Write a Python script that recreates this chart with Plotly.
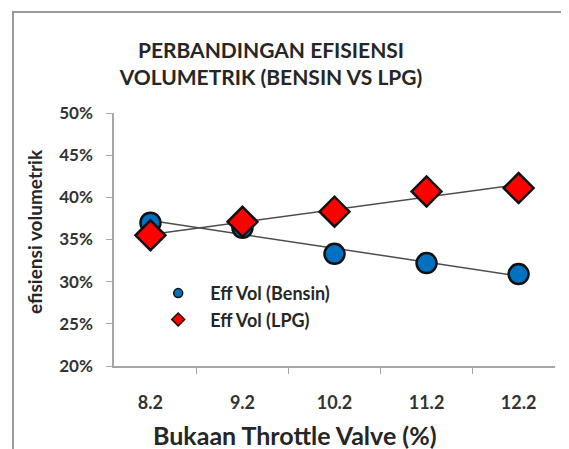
import numpy as np
import plotly.graph_objects as go

categories = ["8.2", "9.2", "10.2", "11.2", "12.2"]
bensin = [0.370, 0.364, 0.333, 0.322, 0.309]
lpg = [0.355, 0.371, 0.383, 0.407, 0.411]
y_ticks = [0.20, 0.25, 0.30, 0.35, 0.40, 0.45, 0.50]

FONT = "Lato"
TEXT = "#333333"
DARK = "#262626"


def trend(values):
    """Linear trendline over the category index, like Excel does."""
    idx = np.arange(len(values))
    slope, icpt = np.polyfit(idx, values, 1)
    return list(slope * idx + icpt)


fig = go.Figure()

# trendlines first so the markers sit on top
for series in (bensin, lpg):
    fig.add_trace(
        go.Scatter(
            x=categories, y=trend(series), mode="lines",
            line={"color": "#4d4d4d", "width": 1.5},
            showlegend=False, hoverinfo="skip",
        )
    )

fig.add_trace(
    go.Scatter(
        x=categories, y=bensin, mode="markers", showlegend=False,
        marker={"symbol": "circle", "size": 20, "color": "#0070C0",
                "line": {"color": "#111111", "width": 2.5}},
    )
)
fig.add_trace(
    go.Scatter(
        x=categories, y=lpg, mode="markers", showlegend=False,
        marker={"symbol": "diamond", "size": 23, "color": "#FF0000",
                "line": {"color": "#111111", "width": 2.5}},
    )
)

# legend-only entries with smaller symbols
fig.add_trace(
    go.Scatter(
        x=[None], y=[None], mode="markers", name="Eff Vol (Bensin)",
        marker={"symbol": "circle", "size": 9, "color": "#0070C0",
                "line": {"color": "#111111", "width": 1.5}},
    )
)
fig.add_trace(
    go.Scatter(
        x=[None], y=[None], mode="markers", name="Eff Vol (LPG)",
        marker={"symbol": "diamond", "size": 10, "color": "#FF0000",
                "line": {"color": "#111111", "width": 1.5}},
    )
)

fig.update_layout(
    width=569, height=449,
    margin={"l": 106, "r": 22, "t": 105, "b": 91},
    paper_bgcolor="white", plot_bgcolor="white",
    font={"family": FONT, "color": TEXT, "size": 13},
    title={
        "text": "PERBANDINGAN EFISIENSI<br>VOLUMETRIK (BENSIN VS LPG)",
        "x": 263 / 569, "xanchor": "center", "y": 1 - 50 / 449, "yanchor": "top",
        "font": {"family": FONT, "size": 21, "color": DARK, "weight": "bold"},
    },
    legend={
        "x": 0.073, "y": 0.36, "xanchor": "left", "yanchor": "top",
        "bgcolor": "rgba(0,0,0,0)",
        "font": {"family": FONT, "size": 18, "color": DARK, "weight": "bold"},
        "itemwidth": 54, "tracegroupgap": 4,
    },
    xaxis={
        "type": "category", "tickson": "boundaries",
        "showline": True, "linecolor": "#A6A6A6", "linewidth": 1.5,
        "ticks": "outside", "ticklen": 6, "tickcolor": "#A6A6A6",
        "showgrid": False, "zeroline": False,
        "tickfont": {"size": 18, "family": FONT, "color": TEXT, "weight": "bold"},
        "ticklabelstandoff": 20,
    },
    yaxis={
        "range": [0.20, 0.50], "tickvals": y_ticks, "tickformat": ".0%",
        "showline": True, "linecolor": "#A6A6A6", "linewidth": 1.5,
        "ticks": "outside", "ticklen": 6, "tickcolor": "#A6A6A6",
        "showgrid": False, "zeroline": False,
        "tickfont": {"size": 17, "family": FONT, "color": TEXT, "weight": "bold"},
        "ticklabelstandoff": 10,
    },
)

# axis titles placed by hand: both sit off-centre in the original
fig.add_annotation(
    text="Bukaan Throttle Valve (%)", xref="paper", yref="paper",
    x=0.41, y=-52 / 253, xanchor="center", yanchor="top", showarrow=False,
    font={"size": 25, "family": FONT, "color": DARK, "weight": "bold"},
)
fig.add_annotation(
    text="efisiensi volumetrik", xref="paper", yref="paper",
    x=-79 / 441, y=0.53, xanchor="center", yanchor="middle", showarrow=False,
    textangle=-90,
    font={"size": 19, "family": FONT, "color": DARK, "weight": "bold"},
)

# outer chart border, cut off on the right and bottom as in the picture
fig.add_shape(
    type="rect", xref="paper", yref="paper",
    x0=-101 / 441, x1=1.2, y0=-0.5, y1=(449 - 4 - 91) / 253,
    line={"color": "#9a9a9a", "width": 2}, layer="below",
)

fig.write_html("out.html")
